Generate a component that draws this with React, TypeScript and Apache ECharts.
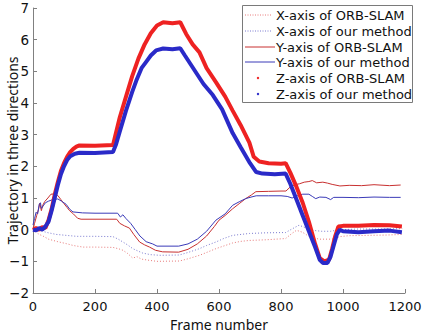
import React, { useEffect, useRef } from "react";
import * as echarts from "echarts";

type P = [number, number];

const seriesNames = [
  "X-axis of ORB-SLAM",
  "X-axis of our method",
  "Y-axis of ORB-SLAM",
  "Y-axis of our method",
  "Z-axis of ORB-SLAM",
  "Z-axis of our method",
];

const xAxisName = "Frame number";
const yAxisName = "Trajectory in three directions";

const xOrb: P[] = [
  [0, 0], [10, -0.08], [20, -0.15], [32, -0.2], [50, -0.3], [80, -0.38], [107, -0.44], [130, -0.5],
  [161, -0.55], [200, -0.55], [258, -0.56], [275, -0.6], [290, -0.65], [305, -0.75], [322, -0.9],
  [335, -0.85], [350, -0.93], [376, -0.97], [400, -1.0], [472, -0.99], [500, -0.92], [537, -0.81],
  [560, -0.72], [590, -0.6], [620, -0.5], [644, -0.42], [670, -0.37], [698, -0.34], [751, -0.32],
  [815, -0.28], [835, -0.12], [850, -0.02], [869, -0.08], [885, -0.18], [901, -0.25], [923, -0.3],
  [965, -0.3], [990, -0.22], [1019, -0.19], [1080, -0.18], [1140, -0.17], [1191, -0.15],
];

const xOur: P[] = [
  [0, 0.02], [15, 0.0], [30, -0.05], [50, -0.1], [75, -0.15], [107, -0.18], [140, -0.21],
  [200, -0.21], [258, -0.22], [275, -0.3], [290, -0.39], [305, -0.48], [322, -0.6], [340, -0.68],
  [354, -0.74], [380, -0.79], [410, -0.81], [472, -0.8], [500, -0.72], [537, -0.6], [560, -0.5],
  [590, -0.39], [615, -0.28], [644, -0.18], [698, -0.12], [750, -0.1], [815, -0.09], [835, 0.02],
  [858, 0.14], [880, 0.06], [901, -0.02], [930, -0.05], [960, -0.05], [990, 0.0], [1050, 0.02],
  [1120, 0.02], [1191, 0.03],
];

const yOrb: P[] = [
  [0, 0.0], [5, 0.2], [12, 0.45], [18, 0.65], [22, 0.83], [27, 0.6], [32, 0.78], [38, 0.89],
  [48, 1.0], [58, 1.12], [70, 1.13], [80, 1.08], [90, 0.95], [100, 0.82], [110, 0.7], [118, 0.6],
  [130, 0.5], [144, 0.36], [155, 0.33], [200, 0.33], [270, 0.33], [280, 0.2], [295, 0.12],
  [311, 0.05], [325, -0.15], [344, -0.39], [360, -0.48], [376, -0.55], [395, -0.65], [418, -0.7],
  [470, -0.71], [500, -0.62], [530, -0.45], [560, -0.2], [585, 0.1], [600, 0.3], [620, 0.45],
  [644, 0.66], [665, 0.82], [686, 0.98], [705, 1.1], [719, 1.2], [760, 1.21], [800, 1.22],
  [816, 1.22], [830, 1.35], [845, 1.42], [860, 1.45], [875, 1.5], [890, 1.52], [901, 1.55],
  [915, 1.48], [935, 1.5], [950, 1.47], [965, 1.43], [990, 1.38], [1020, 1.4], [1060, 1.39],
  [1100, 1.42], [1150, 1.39], [1186, 1.41],
];

const yOur: P[] = [
  [0, 0.15], [5, 0.35], [10, 0.55], [15, 0.5], [20, 0.8], [24, 0.85], [27, 0.67], [33, 0.75],
  [40, 0.85], [50, 0.9], [64, 0.95], [80, 0.97], [92, 0.9], [107, 0.8], [118, 0.65], [129, 0.56],
  [160, 0.53], [200, 0.52], [273, 0.52], [282, 0.4], [290, 0.47], [300, 0.35], [315, 0.2],
  [330, 0.0], [345, -0.2], [365, -0.38], [386, -0.45], [400, -0.52], [470, -0.52], [500, -0.45],
  [530, -0.3], [560, -0.05], [590, 0.3], [620, 0.5], [644, 0.77], [665, 0.88], [686, 0.98],
  [700, 1.02], [720, 1.07], [760, 1.07], [800, 1.07], [820, 1.05], [836, 1.0], [850, 1.06],
  [870, 1.12], [890, 1.12], [901, 1.05], [912, 0.98], [925, 1.03], [945, 1.02], [960, 0.95],
  [970, 1.02], [1000, 1.02], [1050, 1.01], [1100, 1.03], [1150, 1.02], [1186, 1.02],
];

const zOrb: P[] = [
  [0, 0.0], [10, 0.05], [20, 0.0], [30, 0.08], [40, 0.05], [50, 0.3], [60, 0.65], [70, 1.1],
  [80, 1.5], [90, 1.85], [100, 2.1], [110, 2.3], [120, 2.45], [130, 2.55], [140, 2.62],
  [150, 2.66], [200, 2.65], [258, 2.67], [265, 2.95], [280, 3.55], [300, 4.2], [320, 4.85],
  [340, 5.4], [360, 5.85], [380, 6.2], [400, 6.45], [420, 6.55], [450, 6.52], [475, 6.55],
  [494, 6.18], [515, 5.85], [537, 5.6], [560, 5.1], [590, 4.66], [620, 4.2], [644, 3.76],
  [670, 3.3], [698, 2.75], [712, 2.3], [730, 2.15], [760, 2.1], [800, 2.08], [815, 2.1],
  [830, 1.8], [850, 1.35], [870, 0.85], [890, 0.25], [910, -0.45], [925, -0.9], [940, -1.0],
  [955, -0.95], [965, -0.6], [975, -0.2], [985, 0.1], [1000, 0.12], [1050, 0.12], [1100, 0.15],
  [1150, 0.14], [1190, 0.1],
];

const zOur: P[] = [
  [0, 0.0], [10, -0.02], [20, 0.05], [30, 0.0], [40, 0.1], [50, 0.25], [60, 0.6], [70, 1.0],
  [80, 1.4], [90, 1.75], [100, 2.0], [110, 2.2], [120, 2.32], [135, 2.4], [150, 2.43],
  [200, 2.42], [258, 2.45], [268, 2.7], [280, 3.1], [300, 3.76], [320, 4.35], [333, 4.7],
  [350, 5.1], [365, 5.3], [380, 5.5], [397, 5.66], [420, 5.72], [450, 5.7], [475, 5.73],
  [490, 5.5], [520, 5.05], [550, 4.6], [580, 4.25], [610, 3.8], [644, 3.05], [670, 2.6],
  [700, 2.1], [720, 1.82], [740, 1.77], [780, 1.75], [815, 1.77], [830, 1.45], [850, 0.95],
  [870, 0.45], [890, -0.05], [910, -0.55], [925, -0.95], [935, -1.05], [950, -1.05],
  [960, -0.85], [970, -0.5], [980, -0.15], [990, 0.0], [1000, -0.05], [1050, -0.08],
  [1100, -0.05], [1150, -0.03], [1190, -0.08],
];

const seriesData: P[][] = [xOrb, xOur, yOrb, yOur, zOrb, zOur];
const colors = ["#e87a7a", "#7a7ad0", "#c83030", "#3a3ab8", "#ee2222", "#2a2ac8"];

const FONT = "'Noto Sans', sans-serif";
const WIDE_FONT = "'DejaVu Sans', sans-serif";

export default function App() {
  const ref = useRef<HTMLDivElement>(null);
  useEffect(() => {
    if (!ref.current) return;
    const chart = echarts.init(ref.current, undefined, { renderer: "svg" });

    const series: any[] = seriesData.map((d, i) => {
      const isZ = i >= 4;
      const isX = i < 2;
      return {
        name: seriesNames[i],
        type: "line",
        data: d,
        showSymbol: false,
        symbol: "none",
        z: isZ ? 3 : 2,
        lineStyle: {
          color: colors[i],
          width: isZ ? 4 : 1,
          type: isX ? [1, 2] : "solid",
        },
        itemStyle: { color: colors[i] },
      };
    });

    // custom legend
    const lx = 242, ly = 5, lw = 170, lh = 97;
    const rowY = [15, 31, 47, 62, 78, 94];
    const legendEls: any[] = [
      {
        type: "rect",
        shape: { x: lx + 0.5, y: ly + 0.5, width: lw, height: lh },
        style: { fill: "#fff", stroke: "#7a7a7a", lineWidth: 1 },
      },
    ];
    seriesNames.forEach((n, i) => {
      const y = rowY[i];
      if (i < 2) {
        legendEls.push({
          type: "line",
          shape: { x1: 245, y1: y, x2: 272, y2: y },
          style: { stroke: colors[i], lineWidth: 1, lineDash: [1, 1.5] },
        });
      } else if (i < 4) {
        legendEls.push({
          type: "line",
          shape: { x1: 245, y1: y, x2: 275, y2: y },
          style: { stroke: colors[i], lineWidth: 1 },
        });
      } else {
        legendEls.push({
          type: "circle",
          shape: { cx: 258, cy: y, r: 1.2 },
          style: { fill: colors[i] },
        });
      }
      legendEls.push({
        type: "text",
        x: 276,
        y: y,
        style: {
          text: n,
          fill: "#111",
          font: `13px ${WIDE_FONT}`,
          lineHeight: 14,
          verticalAlign: "middle",
          align: "left",
        },
      });
    });

    chart.setOption({
      animation: false,
      backgroundColor: "#fff",
      grid: { left: 33, right: 17, top: 8, bottom: 39, outerBoundsMode: "none", containLabel: false },
      xAxis: {
        type: "value",
        min: 0,
        max: 1200,
        interval: 200,
        name: xAxisName,
        nameLocation: "middle",
        nameGap: 24,
        nameMoveOverlap: false,
        nameTextStyle: { fontSize: 14, color: "#111", fontFamily: FONT, verticalAlign: "top", lineHeight: 14 },
        axisLine: { show: true, onZero: false, lineStyle: { color: "#808080" } },
        axisTick: { show: true, inside: true, length: 4, lineStyle: { color: "#808080" } },
        axisLabel: {
          fontSize: 13,
          color: "#111",
          fontFamily: WIDE_FONT,
          margin: 6,
          lineHeight: 15,
          formatter: (v: number) => String(v),
        },
        splitLine: { show: false },
      },
      yAxis: {
        type: "value",
        min: -2,
        max: 7,
        interval: 1,
        name: yAxisName,
        nameLocation: "middle",
        nameGap: 14,
        nameRotate: 90,
        nameMoveOverlap: false,
        nameTextStyle: { fontSize: 14, color: "#111", fontFamily: FONT },
        axisLine: { show: true, onZero: false, lineStyle: { color: "#808080" } },
        axisTick: { show: true, inside: true, length: 4, lineStyle: { color: "#808080" } },
        axisLabel: {
          fontSize: 13.5,
          color: "#111",
          fontFamily: WIDE_FONT,
          margin: 4,
          lineHeight: 14,
          formatter: (v: number) => String(v).replace("-", "\u2212"),
        },
        splitLine: { show: false },
      },
      series,
      graphic: { elements: legendEls },
    });
    return () => chart.dispose();
  }, []);
  return (
    <div
      ref={ref}
      style={{ position: "absolute", left: 0, top: 0, width: 422, height: 332 }}
    />
  );
}
